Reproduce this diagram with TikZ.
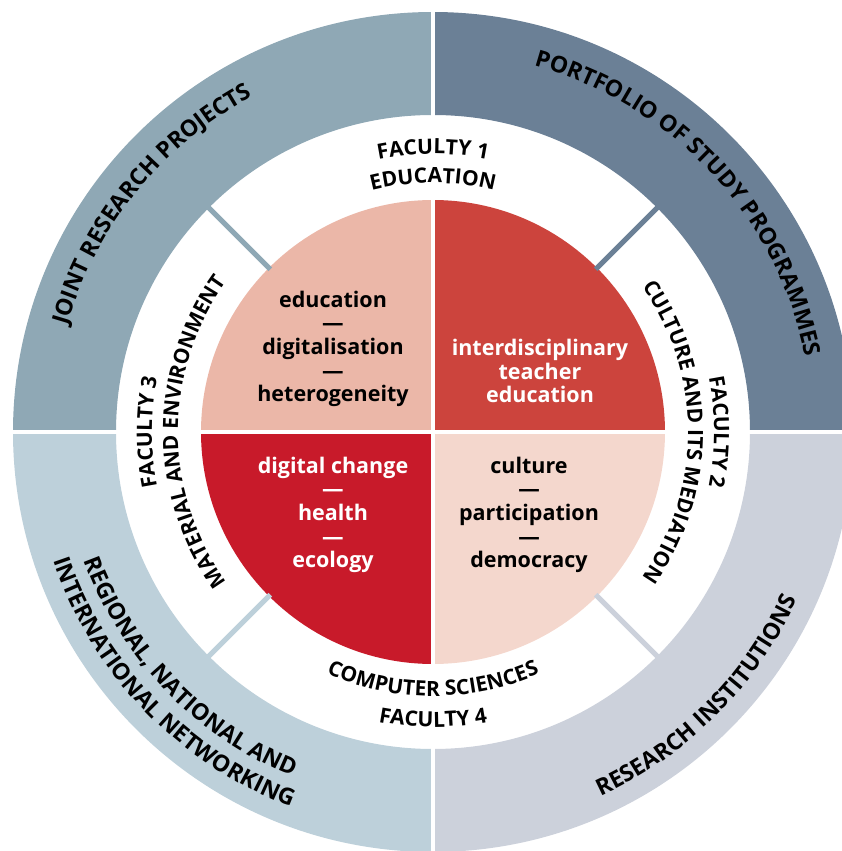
\documentclass[tikz,border=0pt]{standalone}
\usepackage{fontspec}
\setmainfont{Open Sans}
\usetikzlibrary{decorations.text}
\definecolor{otl}{HTML}{8FA8B5}
\definecolor{otr}{HTML}{6B8096}
\definecolor{obl}{HTML}{BDD0DA}
\definecolor{obr}{HTML}{CCD1DB}
\definecolor{ptl}{HTML}{EBB7A8}
\definecolor{ptr}{HTML}{CC443D}
\definecolor{pbl}{HTML}{C81A2A}
\definecolor{pbr}{HTML}{F4D7CD}
\newcommand\outerfnt{\fontsize{23}{23}\selectfont\bfseries}
\newcommand\ringfnt{\fontsize{21}{21}\selectfont\bfseries}
\newcommand\piefnt{\fontsize{21.5}{23.6}\selectfont\bfseries}
\tikzset{
  arctext/.style={decorate, decoration={text along path, text align=center, text={#1}}},
  pietext/.style={align=center, inner sep=0pt, font=\piefnt},
  spoke/.style={line width=5pt},
  gap/.style={white, line width=4pt},
}
\begin{document}
\begin{tikzpicture}[x=1pt,y=1pt]
\useasboundingbox (-433pt,-419pt) rectangle (409pt,432pt);
\clip (-433pt,-419pt) rectangle (409pt,432pt);
% outer ring quadrants
\fill[otr] (0:317pt) -- (0:420pt) arc[start angle=0,end angle=90,radius=420pt] -- (90:317pt) arc[start angle=90,end angle=0,radius=317pt] -- cycle;
\fill[otl] (90:317pt) -- (90:420pt) arc[start angle=90,end angle=180,radius=420pt] -- (180:317pt) arc[start angle=180,end angle=90,radius=317pt] -- cycle;
\fill[obl] (180:317pt) -- (180:420pt) arc[start angle=180,end angle=270,radius=420pt] -- (270:317pt) arc[start angle=270,end angle=180,radius=317pt] -- cycle;
\fill[obr] (270:317pt) -- (270:420pt) arc[start angle=270,end angle=360,radius=420pt] -- (360:317pt) arc[start angle=360,end angle=270,radius=317pt] -- cycle;
% pie
\fill[ptr] (0,0) -- (0:232pt) arc[start angle=0,end angle=90,radius=232pt] -- cycle;
\fill[ptl] (0,0) -- (90:232pt) arc[start angle=90,end angle=180,radius=232pt] -- cycle;
\fill[pbl] (0,0) -- (180:232pt) arc[start angle=180,end angle=270,radius=232pt] -- cycle;
\fill[pbr] (0,0) -- (270:232pt) arc[start angle=270,end angle=360,radius=232pt] -- cycle;
% gaps
\coordinate (gt) at (90:430pt);
\coordinate (gb) at (270:430pt);
\coordinate (gl) at (180:430pt);
\coordinate (gr) at (0:430pt);
\draw[gap] (gt) -- (gb);
\draw[gap] (gl) -- (gr);
% spokes
\coordinate (s1a) at (45:230pt);  \coordinate (s1b) at (45:318pt);
\coordinate (s2a) at (135:230pt); \coordinate (s2b) at (135:318pt);
\coordinate (s3a) at (225:230pt); \coordinate (s3b) at (225:318pt);
\coordinate (s4a) at (315:230pt); \coordinate (s4b) at (315:318pt);
\draw[spoke, otr] (s1a) -- (s1b);
\draw[spoke, otl] (s2a) -- (s2b);
\draw[spoke, obl] (s3a) -- (s3b);
\draw[spoke, obr] (s4a) -- (s4b);
% outer ring texts
\path[arctext={|\outerfnt|JOINT RESEARCH PROJECTS}] (211:381pt) arc[start angle=211,end angle=71,radius=381pt];
\path[arctext={|\outerfnt|PORTFOLIO OF STUDY PROGRAMMES}] (118:380pt) arc[start angle=118,end angle=-32,radius=380pt];
\path[arctext={|\outerfnt|RESEARCH INSTITUTIONS}] (-115:401pt) arc[start angle=-115,end angle=25,radius=401pt];
\path[arctext={|\outerfnt|REGIONAL, NATIONAL AND}] (154:372pt) arc[start angle=154,end angle=294,radius=372pt];
\path[arctext={|\outerfnt|INTERNATIONAL NETWORKING}] (154:401pt) arc[start angle=154,end angle=294,radius=401pt];
% ring texts
\path[arctext={|\ringfnt|FACULTY 1}] (150:278pt) arc[start angle=150,end angle=30,radius=278pt];
\path[arctext={|\ringfnt|EDUCATION}] (150:249pt) arc[start angle=150,end angle=30,radius=249pt];
\path[arctext={|\ringfnt|FACULTY 2}] (70:281pt) arc[start angle=70,end angle=-70,radius=281pt];
\path[arctext={|\ringfnt|CULTURE AND ITS MEDIATION}] (70:255pt) arc[start angle=70,end angle=-70,radius=255pt];
\path[arctext={|\ringfnt|FACULTY 3}] (250:281pt) arc[start angle=250,end angle=110,radius=281pt];
\path[arctext={|\ringfnt|MATERIAL AND ENVIRONMENT}] (250:255pt) arc[start angle=250,end angle=110,radius=255pt];
\path[arctext={|\ringfnt|COMPUTER SCIENCES}] (200:264pt) arc[start angle=200,end angle=340,radius=264pt];
\path[arctext={|\ringfnt|FACULTY 4}] (200:295pt) arc[start angle=200,end angle=340,radius=295pt];
% pie texts
\node[pietext, text=black] (tl) at (-100pt,83pt) {education\\—\\digitalisation\\—\\heterogeneity};
\node[pietext, text=white] (tr) at (107pt,61pt) {interdisciplinary\\teacher\\education};
\node[pietext, text=white] (bl) at (-100pt,-83pt) {digital change\\—\\health\\—\\ecology};
\node[pietext, text=black] (br) at (96pt,-83pt) {culture\\—\\participation\\—\\democracy};
\end{tikzpicture}
\end{document}
